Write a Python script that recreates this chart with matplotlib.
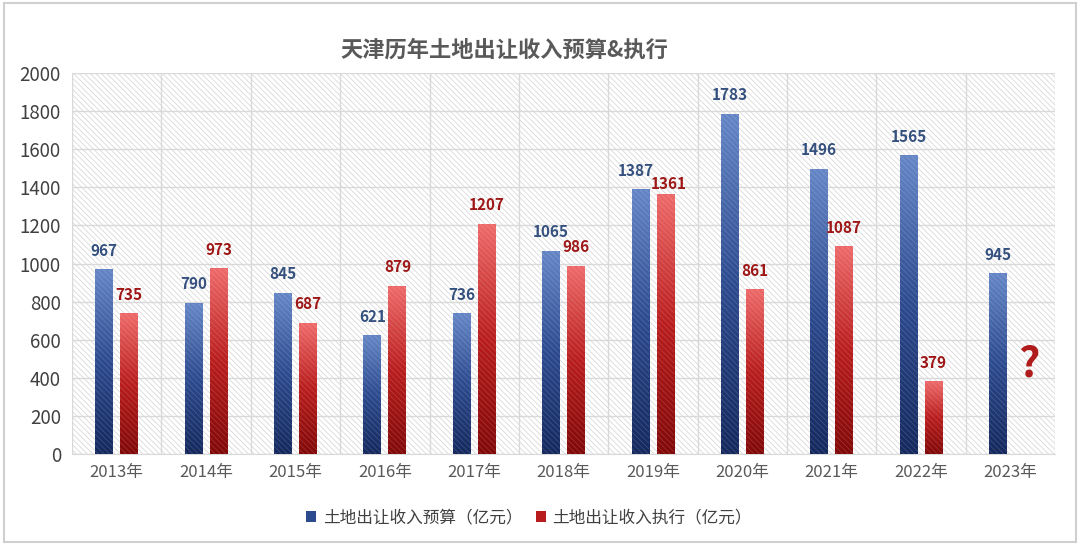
import matplotlib.pyplot as plt
import numpy as np
from matplotlib.colors import LinearSegmentedColormap
from matplotlib.patches import Rectangle, Patch

plt.rcParams['font.family'] = ['Noto Sans CJK SC', 'DejaVu Sans']
plt.rcParams['hatch.linewidth'] = 0.5

# data
years = ['2013年', '2014年', '2015年', '2016年', '2017年', '2018年',
         '2019年', '2020年', '2021年', '2022年', '2023年']
budget = [967, 790, 845, 621, 736, 1065, 1387, 1783, 1496, 1565, 945]
actual = [735, 973, 687, 879, 1207, 986, 1361, 861, 1087, 379, None]
series_names = ['土地出让收入预算（亿元）', '土地出让收入执行（亿元）']

blue_cmap = LinearSegmentedColormap.from_list('b', ['#15295e', '#2d4b8f', '#6586c6'])
red_cmap = LinearSegmentedColormap.from_list('r', ['#820909', '#ba1e1e', '#ee6a6a'])

fig = plt.figure(figsize=(10.8, 5.47), dpi=100)
ax = fig.add_axes([0.0667, 0.170, 0.9103, 0.6965])

x = np.arange(len(years))
w = 0.2
off = 0.14

# hatched plot background
ax.set_facecolor('white')
ax.add_patch(Rectangle((0, 0), 1, 1, transform=ax.transAxes, facecolor='white',
                       edgecolor='#d2d2d2', hatch='\\\\\\\\\\\\', linewidth=0, zorder=0))

act_vals = [v if v is not None else 0 for v in actual]
bars_b = ax.bar(x - off, budget, w, color='none', zorder=3)
bars_r = ax.bar(x + off, act_vals, w, color='none', zorder=3)

grad = np.linspace(0, 1, 256).reshape(-1, 1)
for bars, cmap in [(bars_b, blue_cmap), (bars_r, red_cmap)]:
    for p in bars:
        h = p.get_height()
        if h <= 0:
            continue
        x0 = p.get_x()
        ax.imshow(grad, extent=[x0, x0 + p.get_width(), 0, h], origin='lower',
                  aspect='auto', cmap=cmap, zorder=3)
        # faint hatch on top of the bars like the original
        ax.add_patch(Rectangle((x0, 0), p.get_width(), h, facecolor='none',
                               edgecolor=(1, 1, 1, 0.18), hatch='\\\\\\\\\\\\',
                               linewidth=0, zorder=4))

# value labels
for i, v in enumerate(budget):
    dx = -3 if i == 6 else 0
    ax.annotate(str(v), (x[i] - off, v), xytext=(dx, 8), textcoords='offset points',
                ha='center', va='bottom', fontsize=11, fontweight='bold',
                color='#34507e', zorder=5)
for i, v in enumerate(actual):
    if v is None:
        ax.text(x[i] + off + 0.07, 470, '?', ha='center', va='center', fontsize=30,
                fontweight='bold', color='#b01c1c', zorder=5)
        continue
    dy = 2 if i == 6 else 8
    ax.annotate(str(v), (x[i] + off, v), xytext=(2 if i == 6 else 0, dy),
                textcoords='offset points', ha='center', va='bottom', fontsize=11,
                fontweight='bold', color='#9e1616', zorder=5)

ax.set_xlim(-0.5, len(years) - 0.5)
ax.set_ylim(0, 2000)
ax.set_yticks(range(0, 2001, 200))
ax.set_xticks(x)
ax.set_xticklabels(years, fontsize=12, color='#595959')
ax.set_xticks(np.arange(-0.5, len(years), 1), minor=True)
ax.tick_params(axis='y', labelsize=13.5, labelcolor='#404040', length=0, pad=8)
ax.tick_params(axis='x', which='both', length=0, pad=7)
ax.set_axisbelow(True)
ax.grid(axis='y', color='#d9d9d9', linewidth=1, zorder=1)
ax.grid(axis='x', which='minor', color='#d9d9d9', linewidth=1, zorder=1)
ax.grid(axis='x', which='major', visible=False)
for s in ax.spines.values():
    s.set_visible(False)
ax.spines['bottom'].set_visible(True)
ax.spines['bottom'].set_color('#d9d9d9')

fig.suptitle('天津历年土地出让收入预算&执行', x=0.467, y=0.93, fontsize=16,
             fontweight='bold', color='#595959')

handles = [Patch(facecolor='#2c4a8e'), Patch(facecolor='#b81c1c')]
fig.legend(handles, series_names, loc='center', bbox_to_anchor=(0.49, 0.053),
           ncol=2, frameon=False, fontsize=12, labelcolor='#404040',
           handlelength=0.6, handleheight=0.6, handletextpad=0.4, columnspacing=0.8)

fig.patches.append(Rectangle((0.004, 0.01), 0.992, 0.985, transform=fig.transFigure,
                             fill=False, edgecolor='#d0d0d0', linewidth=1.5))

fig.savefig('out.png', dpi=100, facecolor='white')
